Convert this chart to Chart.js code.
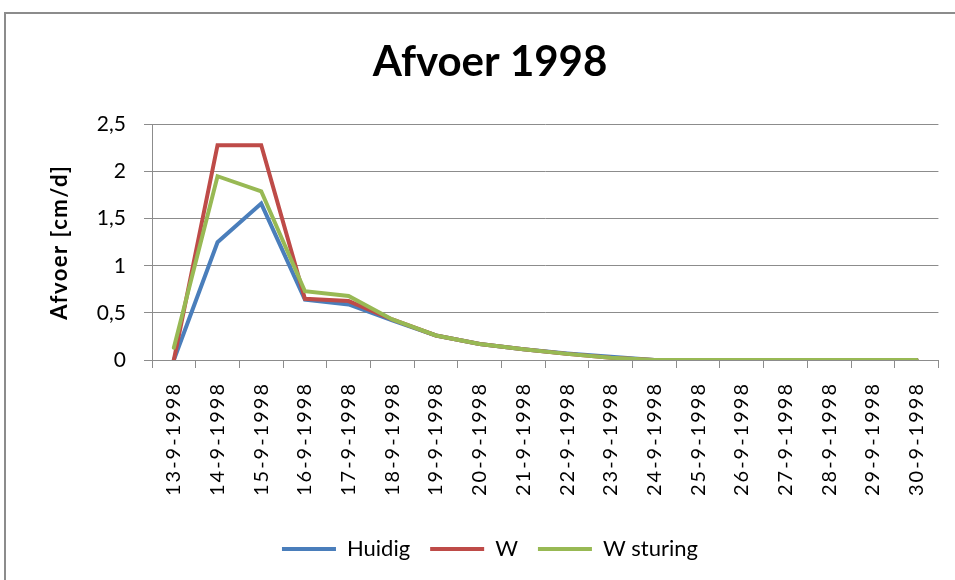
<!DOCTYPE html>
<html>
<head>
<meta charset="utf-8">
<script src="https://cdn.jsdelivr.net/npm/chart.js@4"></script>
<style>
  html, body { margin:0; padding:0; background:#fff; }
  #frame { position:absolute; left:4px; top:12px; width:1000px; height:620px; border:2px solid #8c8c8c; box-sizing:border-box; }
  #wrap { position:absolute; left:0; top:0; width:955px; height:580px; }
</style>
</head>
<body>
<div id="frame"></div>
<div id="wrap"><canvas id="chart" width="955" height="580"></canvas></div>
<script>
// ==== Data ====
const dates = ['13-9-1998','14-9-1998','15-9-1998','16-9-1998','17-9-1998','18-9-1998',
  '19-9-1998','20-9-1998','21-9-1998','22-9-1998','23-9-1998','24-9-1998',
  '25-9-1998','26-9-1998','27-9-1998','28-9-1998','29-9-1998','30-9-1998'];
const huidig   = [0, 1.25, 1.66, 0.64, 0.59, 0.42, 0.26, 0.17, 0.115, 0.07, 0.035, 0, 0, 0, 0, 0, 0, 0];
const w        = [0, 2.28, 2.28, 0.65, 0.625, 0.43, 0.26, 0.17, 0.115, 0.065, 0.025, 0, 0, 0, 0, 0, 0, 0];
const wSturing = [0.13, 1.95, 1.79, 0.73, 0.68, 0.43, 0.26, 0.17, 0.115, 0.065, 0.025, 0, 0, 0, 0, 0, 0, 0];
const yTicks = [0, 0.5, 1, 1.5, 2, 2.5];

const gridColor = '#8c8c8c';

// order: later series are painted on top, like in the original
function line(label, data, color, order){
  return { label, data, order, borderColor: color, backgroundColor: color, borderWidth: 4,
    borderCapStyle: 'round', borderJoinStyle: 'miter', pointRadius: 0, tension: 0, fill: false };
}

const ctx = document.getElementById('chart').getContext('2d');
const chart = new Chart(ctx, {
  type: 'line',
  data: {
    labels: dates,
    datasets: [
      line('Huidig', huidig, '#4a7ebb', 3),
      line('W', w, '#be4b48', 2),
      line('W sturing', wSturing, '#98b954', 1)
    ]
  },
  options: {
    responsive: false,
    animation: false,
    layout: { padding: { left: 40, right: 15, top: 0, bottom: 10 } },
    plugins: {
      title: {
        display: true, text: 'Afvoer 1998', color: '#000',
        font: { family: 'Lato', size: 42, weight: 'bold' },
        padding: { top: 37, bottom: 37 }
      },
      legend: {
        position: 'bottom',
        labels: {
          usePointStyle: true, pointStyle: 'line', pointStyleWidth: 54,
          color: '#000', padding: 20,
          font: { family: 'Lato', size: 22 },
          sort: (a, b) => a.datasetIndex - b.datasetIndex
        }
      },
      tooltip: { enabled: false }
    },
    scales: {
      x: {
        offset: true,
        grid: { offset: true, drawOnChartArea: false, drawTicks: true, tickLength: 8, color: gridColor },
        border: { color: gridColor },
        ticks: { minRotation: 90, maxRotation: 90, autoSkip: false, padding: 14, color: '#000',
          font: { family: 'Lato', size: 20 } },
        afterFit: s => { s.height = 158; }
      },
      y: {
        min: 0, max: 2.5,
        afterBuildTicks: s => { s.ticks = yTicks.map(v => ({ value: v })); },
        grid: { color: gridColor, tickLength: 8 },
        border: { color: gridColor },
        ticks: { padding: 18, color: '#000', font: { family: 'Lato', size: 21 },
          callback: v => String(v).replace('.', ',') },
        title: { display: true, text: 'Afvoer [cm/d]', color: '#000',
          font: { family: 'Lato', size: 22, weight: 'bold' }, padding: { top: 7, bottom: 0 } },
        afterFit: s => { s.width = 112; }
      }
    }
  }
});

// wider letter spacing on the date labels and axis title, like the original
function spaced(scale, fn, px){
  const orig = scale[fn].bind(scale);
  scale[fn] = function(area){
    this.ctx.save();
    this.ctx.letterSpacing = px;
    orig(area);
    this.ctx.restore();
  };
}
spaced(chart.scales.x, 'drawLabels', '2px');
spaced(chart.scales.y, 'drawTitle', '1.5px');
chart.draw();
</script>
</body>
</html>
